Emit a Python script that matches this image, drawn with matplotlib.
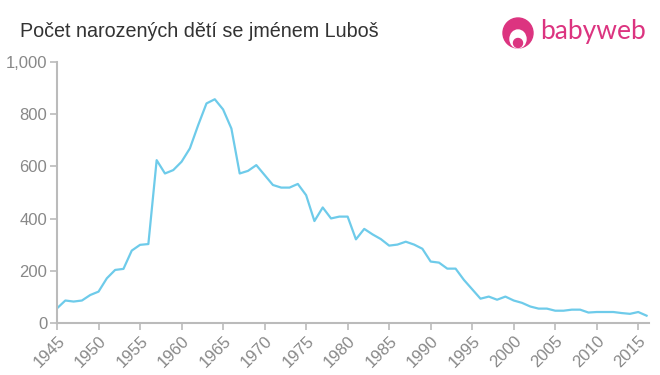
import matplotlib.pyplot as plt
from matplotlib.patches import Circle, Ellipse
from matplotlib.ticker import FuncFormatter

roky = list(range(1945, 2017))
pocty = [57, 87, 83, 87, 108, 121, 172, 204, 208, 278,
         300, 303, 624, 573, 586, 618, 669, 758, 841, 857,
         818, 745, 573, 583, 605, 567, 529, 519, 519, 533,
         490, 391, 443, 401, 408, 408, 321, 361, 340, 322,
         297, 301, 312, 301, 285, 236, 232, 209, 209, 166,
         130, 94, 102, 90, 102, 87, 78, 64, 56, 56,
         48, 48, 52, 52, 41, 43, 43, 43, 39, 36,
         43, 29]
xticky = list(range(1945, 2016, 5))
yticky = [0, 200, 400, 600, 800, 1000]

plt.rcParams['font.family'] = ['Liberation Sans', 'DejaVu Sans']

fig = plt.figure(figsize=(6.6, 3.75), dpi=100)
ax = fig.add_axes([0.0864, 0.138, 0.897, 0.697])

ax.plot(roky, pocty, color='#6ecbea', linewidth=1.6)
ax.set_xlim(1945, 2016.3)
ax.set_ylim(0, 1000)
ax.set_xticks(xticky)
ax.set_yticks(yticky)
ax.yaxis.set_major_formatter(FuncFormatter(lambda v, p: f'{int(v):,}'))

for s in ['top', 'right']:
    ax.spines[s].set_visible(False)
for s in ['left', 'bottom']:
    ax.spines[s].set_color('#bbbbbb')
    ax.spines[s].set_linewidth(1.5)
ax.tick_params(colors='#bbbbbb', labelcolor='#888888', labelsize=12, length=5, width=1.2,
               pad=2)
for lab in ax.get_xticklabels():
    lab.set_rotation(45)
    lab.set_ha('right')
    lab.set_rotation_mode('anchor')

fig.text(0.03, 0.915, 'Počet narozených dětí se jménem Luboš', fontsize=14.2,
         color='#333333', va='center', ha='left')

# logo
pink = '#dc3480'
cx, cy = 518 / 660, 1 - 33 / 375
fig.patches.append(Ellipse((cx, cy), 30 / 660, 30 / 375, transform=fig.transFigure,
                           color=pink))
fig.patches.append(Ellipse((cx, cy - 6 / 375), 16 / 660, 18 / 375, transform=fig.transFigure,
                           color='white'))
fig.patches.append(Ellipse((cx, cy - 10 / 375), 9 / 660, 9 / 375, transform=fig.transFigure,
                           color=pink))
fig.text(540 / 660, cy + 1 / 375, 'babyweb', fontsize=19, color=pink, va='center',
         ha='left', family=['Lato', 'DejaVu Sans'])

fig.savefig('out.png', dpi=100)
